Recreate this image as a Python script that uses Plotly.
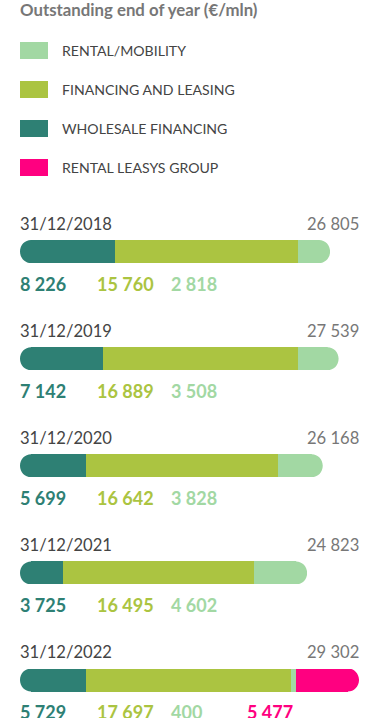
import plotly.graph_objects as go

# ---------------- data ----------------
chart_title = "Outstanding end of year (€/mln)"
series_names = ["RENTAL/MOBILITY", "FINANCING AND LEASING", "WHOLESALE FINANCING", "RENTAL LEASYS GROUP"]
dates = ["31/12/2018", "31/12/2019", "31/12/2020", "31/12/2021", "31/12/2022"]
wholesale = [8226, 7142, 5699, 3725, 5729]
financing = [15760, 16889, 16642, 16495, 17697]
rental = [2818, 3508, 3828, 4602, 400]
leasys = [None, None, None, None, 5477]
totals = [26805, 27539, 26168, 24823, 29302]

# ---------------- styles / layout ----------------
C_RENTAL = "#a2d8a3"
C_FIN = "#abc441"
C_WHOLE = "#2e8074"
C_LEASYS = "#ff0080"
legend_colors = [C_RENTAL, C_FIN, C_WHOLE, C_LEASYS]

W, H = 380, 718
X0_PX, X1_PX = 20, 359
PAD = 2  # annotation box padding compensation
FONT = "Lato, 'Open Sans', sans-serif"
BAR_H = 23
RAD = 11
ROW0 = 251.6
ROW_STEP = 107.1
DATE_DY = -28
VAL_DY = 32
VAL_COLS_PX = [20, 97, 171, 247]
K = 0.5523


def px(xp):
    return xp / W


def fmt(v):
    return f"{v:,}".replace(",", " ")


def cap_mask(side):
    """White corner mask (pixel path) that rounds a square bar end."""
    r, h = RAD, BAR_H / 2
    s = 1 if side == "left" else -1
    return (f"M {-3*s},{h+1.5} L {r*s},{h+1.5} L {r*s},{h} "
            f"C {(r-K*r)*s},{h} 0,{K*h} 0,0 "
            f"C 0,{-K*h} {(r-K*r)*s},{-h} {r*s},{-h} "
            f"L {r*s},{-h-1.5} L {-3*s},{-h-1.5} Z")


fig = go.Figure()
annotations = []
shapes = []

segments = [
    (wholesale, C_WHOLE),
    (financing, C_FIN),
    (rental, C_RENTAL),
    (leasys, C_LEASYS),
]
row_y = [ROW0 + i * ROW_STEP for i in range(len(dates))]

# stacked bars: one trace per series
for vals, col in segments:
    fig.add_trace(go.Bar(orientation="h", y=row_y, x=vals, width=BAR_H,
                         marker=dict(color=col, line=dict(width=0)),
                         showlegend=False, hoverinfo="skip"))

# rounded ends (white masks anchored to the bar start and the stack end)
for i, yc in enumerate(row_y):
    stack_end = sum(v[i] for v, _ in segments if v[i] is not None)
    shapes.append(dict(type="path", xref="x", yref="y", xsizemode="pixel", ysizemode="pixel",
                       xanchor=0, yanchor=yc, path=cap_mask("left"),
                       fillcolor="white", line=dict(width=0), layer="above"))
    shapes.append(dict(type="path", xref="x", yref="y", xsizemode="pixel", ysizemode="pixel",
                       xanchor=stack_end, yanchor=yc, path=cap_mask("right"),
                       fillcolor="white", line=dict(width=0), layer="above"))

# title
annotations.append(dict(text=f"<b>{chart_title}</b>", x=px(X0_PX - PAD), y=9, xref="paper", yref="y",
                        xanchor="left", yanchor="middle", showarrow=False,
                        font=dict(family=FONT, size=16.8, color="#777777")))

# legend
for k, (name, col) in enumerate(zip(series_names, legend_colors)):
    yc = 50.5 + k * 39
    shapes.append(dict(type="rect", xref="paper", yref="y", x0=px(20), x1=px(48), y0=yc - 8.5, y1=yc + 8.5,
                       fillcolor=col, line=dict(width=0), layer="above"))
    annotations.append(dict(text=name, x=px(62 - PAD), y=yc, xref="paper", yref="y", xanchor="left",
                            yanchor="middle", showarrow=False,
                            font=dict(family=FONT, size=14.1, color="#444444")))

# row texts
for i, d in enumerate(dates):
    yc = row_y[i]
    annotations.append(dict(text=d, x=px(X0_PX - PAD), y=yc + DATE_DY, xref="paper", yref="y",
                            xanchor="left", yanchor="middle", showarrow=False,
                            font=dict(family=FONT, size=16.6, color="#444444")))
    annotations.append(dict(text=fmt(totals[i]), x=px(X1_PX + PAD), y=yc + DATE_DY, xref="paper", yref="y",
                            xanchor="right", yanchor="middle", showarrow=False,
                            font=dict(family=FONT, size=16.6, color="#777777")))
    shown = [(v[i], col) for v, col in segments if v[i] is not None]
    for (v, col), xc in zip(shown, VAL_COLS_PX):
        annotations.append(dict(text=f"<b>{fmt(v)}</b>", x=px(xc - PAD), y=yc + VAL_DY, xref="paper", yref="y",
                                xanchor="left", yanchor="middle", showarrow=False,
                                font=dict(family=FONT, size=18, color=col)))

fig.update_layout(
    width=W, height=H, autosize=False,
    margin=dict(l=0, r=0, t=0, b=0),
    paper_bgcolor="white", plot_bgcolor="white",
    barmode="stack",
    xaxis=dict(domain=[px(X0_PX), px(X1_PX)], range=[0, max(totals)], visible=False, fixedrange=True),
    yaxis=dict(domain=[0, 1], range=[H, 0], visible=False, fixedrange=True),
    annotations=annotations, shapes=shapes,
    showlegend=False,
)

fig.write_html("out.html", config={"displayModeBar": False},
               post_script="document.body.style.margin='0';document.body.style.overflow='hidden';")
